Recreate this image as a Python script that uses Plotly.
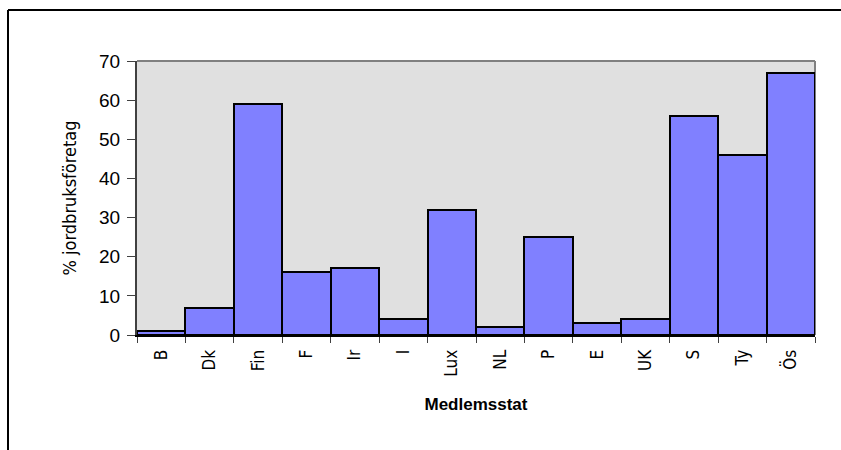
import plotly.graph_objects as go

# Share of agricultural holdings per member state
countries = ["B", "Dk", "Fin", "F", "Ir", "I", "Lux", "NL", "P", "E", "UK", "S", "Ty", "Ös"]
percent = [1, 7, 59, 16, 17, 4, 32, 2, 25, 3, 4, 56, 46, 67]
y_ticks = [0, 10, 20, 30, 40, 50, 60, 70]

W, H = 841, 450
L, R, T, B = 137, 26, 61, 115
pw, ph = W - L - R, H - T - B


def px(x):
    return (x - L) / pw


def py(y):
    return (H - B - y) / ph


narrow = "DejaVu Sans Condensed, Liberation Sans Narrow, Arial Narrow, sans-serif"
arial = "Liberation Sans, Arial, sans-serif"

fig = go.Figure(
    go.Bar(
        x=countries,
        y=percent,
        marker=dict(color="#8080ff", line=dict(color="black", width=2)),
        width=1.0,
    )
)

fig.update_layout(
    width=W,
    height=H,
    margin=dict(l=L, r=R, t=T, b=B),
    paper_bgcolor="white",
    plot_bgcolor="#e0e0e0",
    showlegend=False,
    bargap=0,
    xaxis=dict(
        type="category",
        range=[-0.5, len(countries) - 0.5],
        showgrid=False,
        showline=True,
        linecolor="black",
        linewidth=2,
        ticks="outside",
        ticklen=6,
        tickcolor="#404040",
        tickson="boundaries",
        tickangle=-90,
        ticklabelstandoff=6,
        tickfont=dict(family=narrow, size=17, color="black"),
        title=dict(
            text="<b>Medlemsstat</b>",
            font=dict(family=arial, size=17, color="black"),
            standoff=22,
        ),
    ),
    yaxis=dict(
        range=[0, 70],
        tickvals=y_ticks,
        showgrid=False,
        zeroline=False,
        showline=True,
        linecolor="#404040",
        linewidth=2,
        ticks="outside",
        ticklen=8,
        tickcolor="#404040",
        ticklabelstandoff=3,
        tickfont=dict(family=arial, size=19, color="black"),
        title=dict(
            text="% jordbruksföretag",
            font=dict(family=narrow, size=18, color="black"),
            standoff=18,
        ),
    ),
    shapes=[
        # outer frame (top and left edges)
        dict(type="line", xref="paper", yref="paper",
             x0=px(8), x1=px(W), y0=py(10), y1=py(10),
             line=dict(color="black", width=2)),
        dict(type="line", xref="paper", yref="paper",
             x0=px(8), x1=px(8), y0=py(10), y1=py(H),
             line=dict(color="black", width=2)),
        # plot-area border, top and right
        dict(type="line", xref="paper", yref="paper",
             x0=0, x1=1, y0=1, y1=1,
             line=dict(color="#808080", width=2)),
        dict(type="line", xref="paper", yref="paper",
             x0=1, x1=1, y0=0, y1=1, layer="below",
             line=dict(color="#808080", width=2)),
    ],
)

fig.write_html("out.html")
